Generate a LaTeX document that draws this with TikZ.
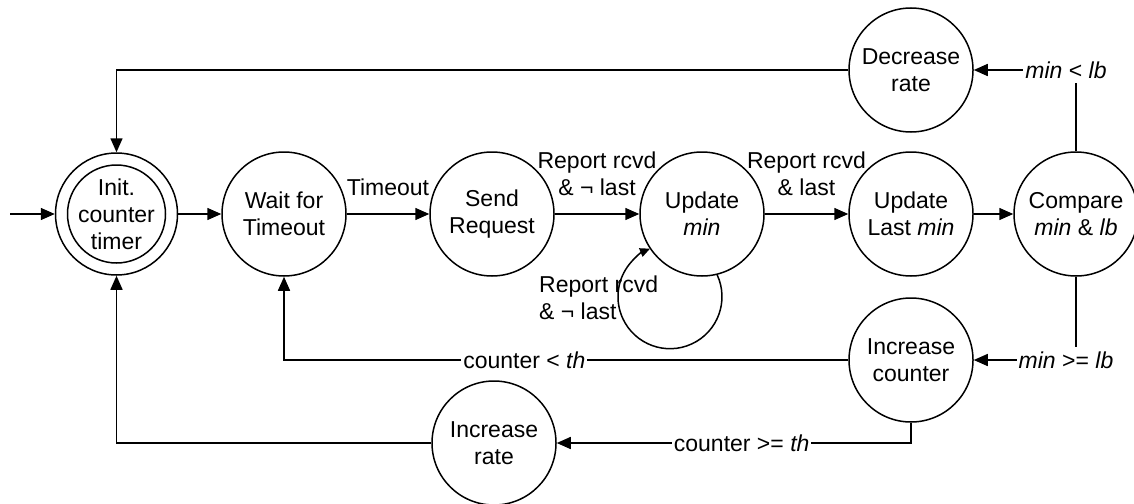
\documentclass[tikz,border=0pt]{standalone}
\usepackage{fontspec}
\setmainfont{Liberation Sans}
\usetikzlibrary{arrows.meta}
\begin{document}
\begin{tikzpicture}[x=1pt,y=-1pt,
  every node/.style={font=\fontsize{23}{27}\selectfont},
  state/.style={circle, draw, line width=1.5pt, minimum size=124pt, inner sep=0pt, align=center},
  conn/.style={line width=1.5pt, -{Triangle[length=14pt,width=12pt]}},
  smallconn/.style={line width=1.5pt, -{Triangle[length=10pt,width=9pt]}},
  lbl/.style={inner sep=0pt, align=center},
  onlbl/.style={fill=white, inner xsep=2pt, inner ysep=5pt},
]
\useasboundingbox (0,0) rectangle (1134,503);
% states
\node[state, minimum size=122pt] (init) at (116.5,214) {Init.\\counter\\timer};
\draw[line width=1.5pt] (init.center) circle[radius=49pt];
\node[state] (wait) at (284,214) {Wait for\\Timeout};
\node[state] (send) at (492,214) {Send\\Request};
\node[state] (um) at (702,214) {Update\\\textit{min}};
\node[state] (ulm) at (911,214) {Update\\Last \textit{min}};
\node[state] (cmp) at (1076,214) {Compare\\\textit{min} \& \textit{lb}};
\node[state] (dec) at (911,70) {Decrease\\rate};
\node[state] (incc) at (911,360) {Increase\\counter};
\node[state] (incr) at (494,443) {Increase\\rate};
% connectors
\coordinate (start) at (10,214);
\draw[conn] (start) -- (init);
\draw[conn] (init) -- (wait);
\draw[conn] (wait) -- node[lbl, above=18pt] (l1) {Timeout} (send);
\draw[conn] (send) -- node[lbl, above=18pt] (l2) {Report rcvd\\\& ¬ last} (um);
\draw[conn] (um) -- node[lbl, above=18pt] (l3) {Report rcvd\\\& last} (ulm);
\draw[conn] (ulm) -- (cmp);
\draw[conn] (cmp.north) |- node[onlbl, xshift=-10pt] (l4) {\textit{min} < \textit{lb}} (dec.east);
\draw[conn] (cmp.south) |- node[onlbl, xshift=-10pt] (l5) {\textit{min} >= \textit{lb}} (incc.east);
\draw[conn] (incc.west) -| node[onlbl, pos=0.287] (l6) {counter < \textit{th}} (wait.south);
\draw[conn] (incc.south) |- node[onlbl, pos=0.739] (l7) {counter >= \textit{th}} (incr.east);
\draw[conn] (incr.west) -| (init.south);
\draw[conn] (dec.west) -| (init.north);
% self loop
\draw[smallconn] (um.-76) arc[start angle=24.8, end angle=-247.4, radius=52pt];
\node[lbl, align=left, anchor=west] (l8) at (539,298) {Report rcvd\\\& ¬ last};
\end{tikzpicture}
\end{document}
